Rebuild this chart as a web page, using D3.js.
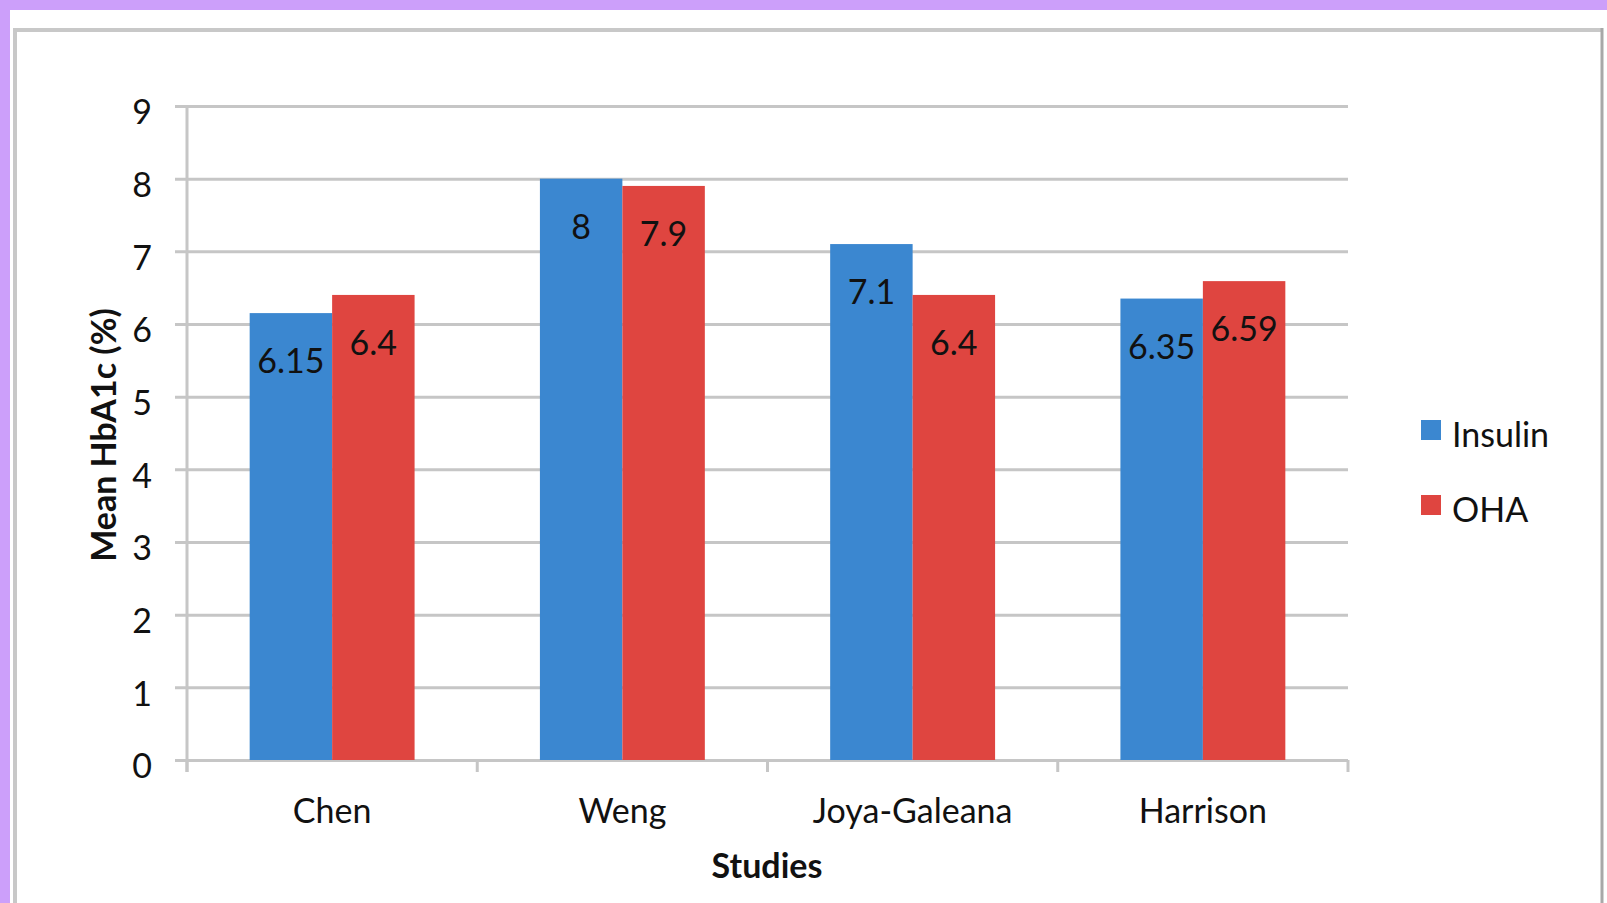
<!DOCTYPE html>
<html>
<head>
<meta charset="utf-8">
<script src="https://cdn.jsdelivr.net/npm/d3@7/dist/d3.min.js"></script>
<style>
  html, body { margin: 0; padding: 0; background: #ffffff; }
  svg { display: block; }
  text { font-family: Lato, "Open Sans", sans-serif; fill: #111; }
</style>
</head>
<body>
<svg id="chart" width="1607" height="903"></svg>
<script>
// Mean HbA1c by study and treatment group
const studies = ["Chen", "Weng", "Joya-Galeana", "Harrison"];
const series = ["Insulin", "OHA"];
const insulinValues = [6.15, 8, 7.1, 6.35];
const ohaValues = [6.4, 7.9, 6.4, 6.59];
const yTicks = [0, 1, 2, 3, 4, 5, 6, 7, 8, 9];
const seriesColors = ["#3b87d0", "#df4540"];

const valuesBySeries = { "Insulin": insulinValues, "OHA": ohaValues };
const rows = studies.map((s, i) => ({
  study: s,
  bars: series.map(k => ({ key: k, value: valuesBySeries[k][i] }))
}));

const svg = d3.select("#chart");
const W = 1607, H = 903;
const plot = { left: 187, right: 1348, top: 106, bottom: 760 };
const gridColor = "#c6c6c6";
const fontSize = 34;

// page decoration: purple edge and chart frame
svg.append("rect").attr("x", 0).attr("y", 0).attr("width", W).attr("height", H).attr("fill", "#ffffff");
svg.append("rect").attr("x", 0).attr("y", 0).attr("width", W).attr("height", 10).attr("fill", "#cc9ffa");
svg.append("rect").attr("x", 0).attr("y", 0).attr("width", 10).attr("height", H).attr("fill", "#cc9ffa");
svg.append("path")
  .attr("d", `M15,${H + 5} V30 H1602`)
  .attr("fill", "none").attr("stroke", "#c8c8c8").attr("stroke-width", 4);
svg.append("line")
  .attr("x1", 1602).attr("x2", 1602).attr("y1", 28).attr("y2", H + 5)
  .attr("stroke", "#a8a8a8").attr("stroke-width", 3);

// scales
const x0 = d3.scaleBand().domain(studies).range([plot.left, plot.right]).paddingInner(0).paddingOuter(0);
const x1 = d3.scaleBand().domain(series).range([0, x0.bandwidth()]).paddingInner(0).paddingOuter(0.76);
const y = d3.scaleLinear().domain([0, 9]).range([plot.bottom, plot.top]);
const color = d3.scaleOrdinal().domain(series).range(seriesColors);

// horizontal gridlines (extend a little to the left of the axis as tick marks)
const grid = svg.append("g")
  .attr("transform", `translate(${plot.right},0)`)
  .call(d3.axisLeft(y).tickValues(yTicks).tickSize(plot.right - plot.left + 12).tickFormat(""));
grid.select(".domain").remove();
grid.selectAll(".tick line").attr("stroke", gridColor).attr("stroke-width", 3);

// y axis labels and line
const yAxis = svg.append("g")
  .attr("transform", `translate(${plot.left},0)`)
  .call(d3.axisLeft(y).tickValues(yTicks).tickSize(12).tickPadding(23).tickFormat(d3.format("d")));
yAxis.select(".domain").remove();
yAxis.selectAll(".tick line").remove();
yAxis.selectAll(".tick text")
  .attr("font-size", fontSize).attr("dy", "0.52em").style("font-family", "Lato, sans-serif").attr("fill", "#111");
svg.append("line")
  .attr("x1", plot.left).attr("x2", plot.left)
  .attr("y1", y(9)).attr("y2", y(0) + 12)
  .attr("stroke", gridColor).attr("stroke-width", 3);

// x axis category boundary ticks
const boundaries = studies.map(s => x0(s)).concat([x0(studies[studies.length - 1]) + x0.step()]);
svg.append("g").selectAll("line").data(boundaries).join("line")
  .attr("x1", d => d).attr("x2", d => d)
  .attr("y1", y(0)).attr("y2", y(0) + 12)
  .attr("stroke", gridColor).attr("stroke-width", 3);

// category labels
const xAxis = svg.append("g")
  .attr("transform", `translate(0,${plot.bottom})`)
  .call(d3.axisBottom(x0).tickSize(0).tickPadding(0));
xAxis.select(".domain").remove();
xAxis.selectAll(".tick text")
  .attr("y", 0).attr("dy", 0).attr("transform", "translate(0,63)")
  .attr("font-size", fontSize).style("font-family", "Lato, sans-serif").attr("fill", "#111");

// bars
const groups = svg.append("g").selectAll("g").data(rows).join("g")
  .attr("transform", d => `translate(${x0(d.study)},0)`);
groups.selectAll("rect").data(d => d.bars).join("rect")
  .attr("x", d => x1(d.key))
  .attr("width", x1.bandwidth())
  .attr("y", d => y(d.value))
  .attr("height", d => y(0) - y(d.value))
  .attr("fill", d => color(d.key));

// value labels inside the bar tops
groups.selectAll("text.val").data(d => d.bars).join("text")
  .attr("class", "val")
  .attr("x", d => x1(d.key) + x1.bandwidth() / 2)
  .attr("y", d => y(d.value) + 60)
  .attr("text-anchor", "middle")
  .attr("font-size", fontSize)
  .text(d => d3.format("")(d.value));

// axis titles
svg.append("text")
  .attr("transform", "translate(116,435) rotate(-90)")
  .attr("text-anchor", "middle")
  .attr("font-size", fontSize).attr("font-weight", "bold")
  .text("Mean HbA1c (%)");
svg.append("text")
  .attr("x", 767).attr("y", 878)
  .attr("text-anchor", "middle")
  .attr("font-size", fontSize).attr("font-weight", "bold")
  .text("Studies");

// legend
const legend = svg.append("g").selectAll("g").data(series).join("g")
  .attr("transform", (d, i) => `translate(1421,${420 + i * 75})`);
legend.append("rect").attr("width", 20).attr("height", 20).attr("fill", d => color(d));
legend.append("text").attr("x", 31).attr("y", 27).attr("font-size", fontSize).text(d => d);
</script>
</body>
</html>
